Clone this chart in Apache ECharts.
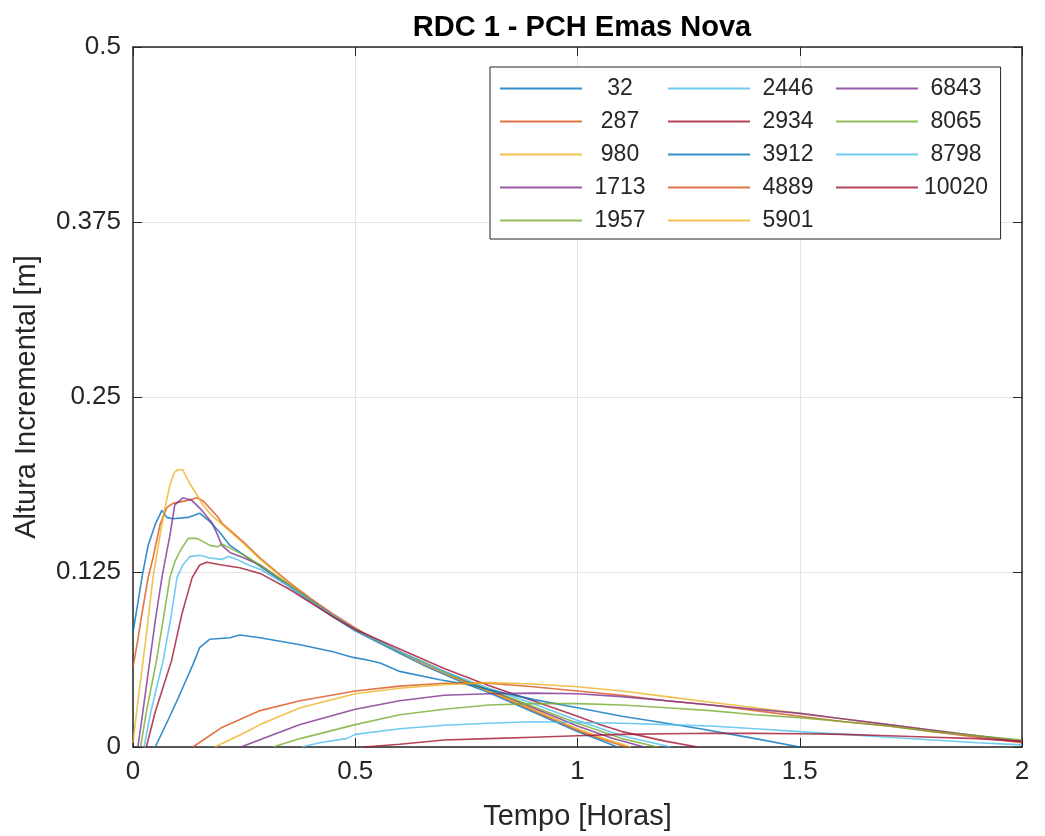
<html>
<head>
<meta charset="utf-8">
<title>RDC 1 - PCH Emas Nova</title>
<script src="https://cdn.jsdelivr.net/npm/echarts@6/dist/echarts.min.js"></script>
<style>
  html, body { margin: 0; padding: 0; background: #fff; }
  #chart { width: 1045px; height: 836px; }
</style>
</head>
<body>
<div id="chart"></div>
<script>
// nomes das séries (legenda) e pares [tempo (h), altura (m)]
var names = ['32', '287', '980', '1713', '1957', '2446', '2934', '3912', '4889', '5901', '6843', '8065', '8798', '10020'];

var s32 = [[0,0.082],[0.01,0.101],[0.02,0.121],[0.034,0.144],[0.05,0.159],[0.065,0.169],[0.076,0.164],[0.09,0.163],[0.124,0.164],[0.15,0.167],[0.173,0.161],[0.196,0.153],[0.218,0.144],[0.25,0.137],[0.286,0.129],[0.35,0.115],[0.4,0.104],[0.45,0.093],[0.5,0.083],[0.55,0.075],[0.6,0.067],[0.65,0.059],[0.7,0.052],[0.75,0.045],[0.8,0.039],[0.9,0.025],[1.0,0.011],[1.05,0.005],[1.09,0]];
var s287 = [[0,0.057],[0.01,0.075],[0.02,0.095],[0.034,0.121],[0.045,0.135],[0.061,0.159],[0.076,0.171],[0.09,0.174],[0.121,0.176],[0.144,0.178],[0.157,0.176],[0.189,0.165],[0.2,0.16],[0.25,0.146],[0.286,0.135],[0.35,0.118],[0.4,0.106],[0.45,0.095],[0.5,0.085],[0.55,0.076],[0.6,0.068],[0.65,0.06],[0.7,0.053],[0.75,0.046],[0.8,0.04],[0.9,0.026],[1.0,0.012],[1.05,0.006],[1.11,0]];
var s980 = [[0,0.003],[0.01,0.03],[0.02,0.055],[0.03,0.08],[0.045,0.121],[0.06,0.15],[0.072,0.171],[0.083,0.187],[0.093,0.196],[0.1,0.198],[0.112,0.198],[0.128,0.188],[0.144,0.18],[0.157,0.173],[0.175,0.166],[0.2,0.159],[0.25,0.145],[0.286,0.134],[0.35,0.117],[0.4,0.105],[0.45,0.094],[0.5,0.084],[0.55,0.076],[0.6,0.068],[0.65,0.06],[0.7,0.053],[0.75,0.046],[0.8,0.04],[0.9,0.027],[1.0,0.013],[1.06,0.006],[1.12,0]];
var s1713 = [[0.011,0],[0.02,0.02],[0.038,0.062],[0.05,0.09],[0.065,0.121],[0.075,0.138],[0.083,0.151],[0.094,0.173],[0.112,0.178],[0.133,0.176],[0.155,0.169],[0.178,0.16],[0.191,0.151],[0.2,0.144],[0.218,0.139],[0.25,0.135],[0.286,0.13],[0.35,0.116],[0.4,0.105],[0.45,0.094],[0.5,0.084],[0.55,0.076],[0.6,0.068],[0.65,0.061],[0.7,0.054],[0.75,0.047],[0.8,0.041],[0.9,0.028],[1.0,0.015],[1.08,0.006],[1.15,0]];
var s1957 = [[0.017,0],[0.03,0.025],[0.053,0.062],[0.07,0.095],[0.083,0.121],[0.095,0.133],[0.106,0.14],[0.124,0.149],[0.144,0.149],[0.173,0.144],[0.191,0.143],[0.2,0.145],[0.225,0.141],[0.25,0.137],[0.286,0.13],[0.35,0.116],[0.4,0.105],[0.45,0.094],[0.5,0.084],[0.55,0.076],[0.6,0.068],[0.65,0.061],[0.7,0.054],[0.75,0.047],[0.8,0.041],[0.9,0.029],[1.0,0.017],[1.1,0.006],[1.18,0]];
var s2446 = [[0.025,0],[0.04,0.025],[0.068,0.062],[0.085,0.092],[0.099,0.121],[0.112,0.13],[0.128,0.136],[0.151,0.137],[0.173,0.135],[0.2,0.134],[0.214,0.136],[0.234,0.134],[0.26,0.13],[0.286,0.127],[0.35,0.115],[0.4,0.104],[0.45,0.094],[0.5,0.084],[0.55,0.076],[0.6,0.068],[0.65,0.061],[0.7,0.054],[0.75,0.048],[0.8,0.042],[0.9,0.031],[1.0,0.019],[1.1,0.008],[1.21,0]];
var s2934 = [[0.03,0],[0.05,0.025],[0.087,0.062],[0.11,0.095],[0.133,0.121],[0.15,0.13],[0.166,0.132],[0.2,0.13],[0.24,0.128],[0.286,0.124],[0.35,0.113],[0.4,0.103],[0.45,0.093],[0.5,0.084],[0.55,0.077],[0.6,0.07],[0.65,0.063],[0.7,0.056],[0.75,0.05],[0.8,0.044],[0.9,0.033],[1.0,0.022],[1.05,0.016],[1.1,0.011],[1.2,0.004],[1.27,0]];
var s3912 = [[0.05,0],[0.08,0.02],[0.106,0.038],[0.135,0.059],[0.15,0.071],[0.173,0.077],[0.218,0.078],[0.24,0.08],[0.286,0.078],[0.376,0.073],[0.45,0.068],[0.495,0.064],[0.53,0.062],[0.556,0.06],[0.6,0.054],[0.69,0.048],[0.765,0.044],[0.8,0.041],[0.9,0.034],[1.0,0.028],[1.05,0.025],[1.1,0.022],[1.2,0.017],[1.276,0.013],[1.4,0.006],[1.5,0]];
var s4889 = [[0.135,0],[0.2,0.014],[0.286,0.026],[0.376,0.033],[0.5,0.04],[0.6,0.0435],[0.7,0.0455],[0.8,0.0455],[0.9,0.043],[1.0,0.04],[1.1,0.037],[1.2,0.033],[1.3,0.03],[1.4,0.026],[1.5,0.022],[1.6,0.018],[1.7,0.015],[1.8,0.011],[1.9,0.007],[2.0,0.003]];
var s5901 = [[0.184,0],[0.25,0.01],[0.286,0.016],[0.376,0.028],[0.5,0.038],[0.6,0.042],[0.7,0.0445],[0.8,0.046],[0.9,0.045],[1.0,0.043],[1.1,0.04],[1.2,0.036],[1.3,0.032],[1.4,0.028],[1.5,0.024],[1.6,0.02],[1.7,0.016],[1.8,0.012],[1.9,0.008],[2.0,0.004]];
var s6843 = [[0.243,0],[0.3,0.007],[0.376,0.016],[0.5,0.027],[0.6,0.033],[0.7,0.037],[0.8,0.038],[0.9,0.0385],[1.0,0.038],[1.1,0.036],[1.2,0.033],[1.3,0.03],[1.4,0.027],[1.5,0.024],[1.6,0.02],[1.7,0.016],[1.8,0.012],[1.9,0.008],[2.0,0.004]];
var s8065 = [[0.315,0],[0.376,0.006],[0.5,0.016],[0.6,0.023],[0.7,0.027],[0.8,0.03],[0.9,0.031],[1.0,0.031],[1.1,0.03],[1.2,0.028],[1.3,0.026],[1.4,0.023],[1.5,0.021],[1.6,0.018],[1.7,0.015],[1.8,0.011],[1.9,0.008],[2.0,0.005]];
var s8798 = [[0.38,0],[0.42,0.003],[0.48,0.006],[0.5,0.009],[0.6,0.013],[0.7,0.0155],[0.8,0.017],[0.9,0.018],[1.0,0.0175],[1.1,0.017],[1.2,0.016],[1.3,0.015],[1.4,0.013],[1.5,0.011],[1.6,0.009],[1.7,0.007],[1.8,0.005],[1.9,0.003],[2.0,0.0015]];
var s10020 = [[0.52,0],[0.6,0.002],[0.7,0.005],[0.8,0.006],[0.9,0.007],[1.0,0.008],[1.1,0.009],[1.2,0.0095],[1.3,0.0098],[1.4,0.0097],[1.5,0.0095],[1.6,0.009],[1.7,0.008],[1.8,0.007],[1.9,0.006],[2.0,0.004]];

var allData = [s32, s287, s980, s1713, s1957, s2446, s2934, s3912, s4889, s5901, s6843, s8065, s8798, s10020];

var xTicks = [0, 0.5, 1, 1.5, 2];
var yTicks = [0, 0.125, 0.25, 0.375, 0.5];

// cores padrão do MATLAB
var cores = ['#0072BD', '#D95319', '#EDB120', '#7E2F8E', '#77AC30', '#4DBEEE', '#A2142F'];
var fonte = 'Liberation Sans, Arial, Helvetica, sans-serif';
var corEixo = '#262626';

var series = [];
for (var i = 0; i < names.length; i++) {
    series.push({
        name: names[i],
        type: 'line',
        data: allData[i],
        showSymbol: false,
        symbol: 'none',
        lineStyle: { width: 1.6, color: cores[i % 7], opacity: 0.8 },
        itemStyle: { color: cores[i % 7], opacity: 0.8 },
        z: 3
    });
}

// legenda em 3 colunas de 5 (como no MATLAB); a primeira desenha a caixa toda
function colunaLegenda(col) {
    var leg = {
        data: names.slice(col * 5, col * 5 + 5),
        orient: 'vertical',
        left: 490 + col * 168,
        top: 67,
        padding: [10, 10, 7, 10],
        itemGap: 10,
        itemWidth: 82,
        itemHeight: 2,
        icon: 'rect',
        z: 5,
        formatter: '{a|{name}}',
        textStyle: {
            fontFamily: fonte,
            fontSize: 23,
            color: corEixo,
            rich: { a: { width: 66, align: 'center', fontSize: 23, fontFamily: fonte, color: corEixo } }
        }
    };
    if (col === 0) {
        leg.z = 4;
        leg.padding = [10, 355, 7, 10];
        leg.backgroundColor = '#ffffff';
        leg.borderColor = corEixo;
        leg.borderWidth = 1;
        leg.borderRadius = 0;
    }
    return leg;
}

var chart = echarts.init(document.getElementById('chart'));
var option = {
    animation: false,
    backgroundColor: '#ffffff',
    title: {
        text: 'RDC 1 - PCH Emas Nova',
        left: 577,
        top: 8,
        textAlign: 'center',
        textStyle: { fontFamily: fonte, fontSize: 29, fontWeight: 'bold', color: '#000' }
    },
    legend: [colunaLegenda(0), colunaLegenda(1), colunaLegenda(2)],
    grid: { left: 133, right: 23, top: 47, bottom: 86, containLabel: false },
    xAxis: [{
        type: 'value',
        min: xTicks[0],
        max: xTicks[xTicks.length - 1],
        interval: 0.5,
        name: 'Tempo [Horas]',
        nameLocation: 'middle',
        nameGap: 55,
        nameTextStyle: { fontFamily: fonte, fontSize: 29, color: corEixo },
        axisLine: { onZero: false, lineStyle: { color: corEixo, width: 1.5 } },
        axisTick: { inside: true, length: 9, lineStyle: { color: corEixo } },
        axisLabel: { fontFamily: fonte, fontSize: 26, color: corEixo, margin: 12 },
        splitLine: { show: true, lineStyle: { color: '#e3e3e3', width: 1 } }
    }, {
        type: 'value',
        position: 'top',
        min: 0, max: 2, interval: 0.5,
        axisLine: { onZero: false, lineStyle: { color: corEixo, width: 1.5 } },
        axisTick: { inside: true, length: 9, lineStyle: { color: corEixo } },
        axisLabel: { show: false },
        splitLine: { show: false }
    }],
    yAxis: [{
        type: 'value',
        min: yTicks[0],
        max: yTicks[yTicks.length - 1],
        interval: 0.125,
        name: 'Altura Incremental [m]',
        nameLocation: 'middle',
        nameGap: 92,
        nameTextStyle: { fontFamily: fonte, fontSize: 29, color: corEixo },
        axisLine: { show: true, onZero: false, lineStyle: { color: corEixo, width: 1.5 } },
        axisTick: { show: true, inside: true, length: 9, lineStyle: { color: corEixo } },
        axisLabel: { fontFamily: fonte, fontSize: 26, color: corEixo, margin: 12 },
        splitLine: { show: true, lineStyle: { color: '#e3e3e3', width: 1 } }
    }, {
        type: 'value',
        position: 'right',
        min: 0, max: 0.5, interval: 0.125,
        axisLine: { show: true, onZero: false, lineStyle: { color: corEixo, width: 1.5 } },
        axisTick: { show: true, inside: true, length: 9, lineStyle: { color: corEixo } },
        axisLabel: { show: false },
        splitLine: { show: false }
    }],
    series: series
};
chart.setOption(option);
</script>
</body>
</html>
